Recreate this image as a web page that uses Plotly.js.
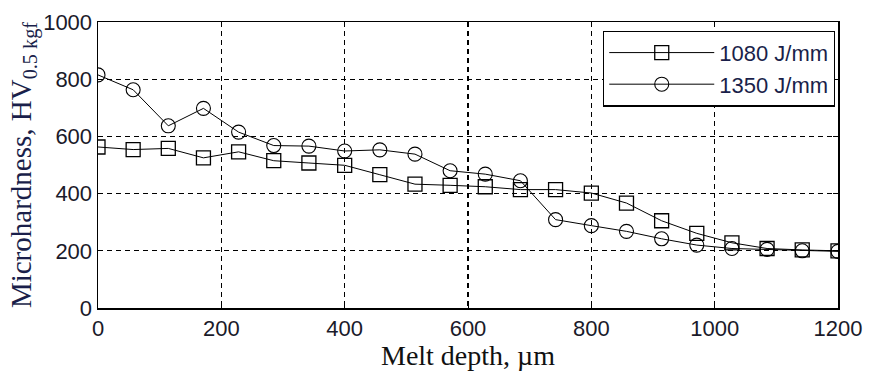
<!DOCTYPE html>
<html><head><meta charset="utf-8">
<script src="https://cdn.plot.ly/plotly-3.0.1.min.js"></script>
<style>html,body{margin:0;padding:0;background:#fff;}#chart{width:869px;height:371px;}</style>
</head><body><div id="chart"></div>
<script>
const depth = [0, 57, 114, 171, 228, 285, 342, 400, 457, 514, 571, 628, 685, 742, 800, 857, 914, 971, 1028, 1085, 1142, 1200];
const hv1080 = [563, 554, 558, 525, 546, 515, 507, 499, 466, 433, 429, 424, 414, 414, 402, 367, 305, 261, 228, 208, 203, 200];
const hv1350 = [815, 763, 637, 698, 615, 568, 566, 549, 553, 538, 480, 468, 445, 309, 288, 268, 242, 220, 208, 205, 200, 198];
const seriesNames = ['1080 J/mm', '1350 J/mm'];

const lineStyle = {color: '#000', width: 1};
const traces = [
  {x: depth, y: hv1080, name: seriesNames[0], legendgroup: 'a', mode: 'lines+markers', type: 'scatter',
   line: lineStyle, marker: {symbol: 'square-open', size: 14, color: '#000', line: {width: 1.3}}},
  {x: depth, y: hv1350, name: seriesNames[1], legendgroup: 'b', mode: 'lines+markers', type: 'scatter',
   line: lineStyle, marker: {symbol: 'circle-open', size: 14, color: '#000', line: {width: 1.1}}}
];
const axisCommon = {
  showline: true, linecolor: '#000', linewidth: 1.5, mirror: 'ticks',
  ticks: 'inside', ticklen: 5, tickcolor: '#000',
  showgrid: true, gridcolor: '#000', griddash: '5px,4px', gridwidth: 1.2,
  zeroline: false,
  tickfont: {family: 'Liberation Sans, Arial, sans-serif', size: 22, color: '#1a1a2a'}
};
const layout = {
  width: 869, height: 371,
  margin: {l: 98, r: 31, t: 22, b: 63},
  paper_bgcolor: '#fff', plot_bgcolor: '#fff',
  showlegend: true,
  xaxis: Object.assign({}, axisCommon, {
    range: [0, 1200], dtick: 200, tick0: 0,
    title: {text: 'Melt depth, µm', standoff: 0,
      font: {family: 'Liberation Serif, Times New Roman, serif', size: 28, color: '#111'}}
  }),
  yaxis: Object.assign({}, axisCommon, {
    range: [0, 1000], dtick: 200, tick0: 0,
    title: {text: 'Microhardness, HV<sub>0.5 kgf</sub>', standoff: 3,
      font: {family: 'Liberation Serif, Times New Roman, serif', size: 29, color: '#1a1f4a'}}
  }),
  legend: {
    x: 0.996, xanchor: 'right', y: 0.97, yanchor: 'top',
    bgcolor: '#fff', bordercolor: '#000', borderwidth: 1.2,
    font: {family: 'Liberation Sans, Arial, sans-serif', size: 22, color: '#1a1f4a'},
    itemwidth: 105, tracegroupgap: 0
  }
};
Plotly.newPlot('chart', traces, layout, {staticPlot: true, displayModeBar: false});
</script></body></html>
